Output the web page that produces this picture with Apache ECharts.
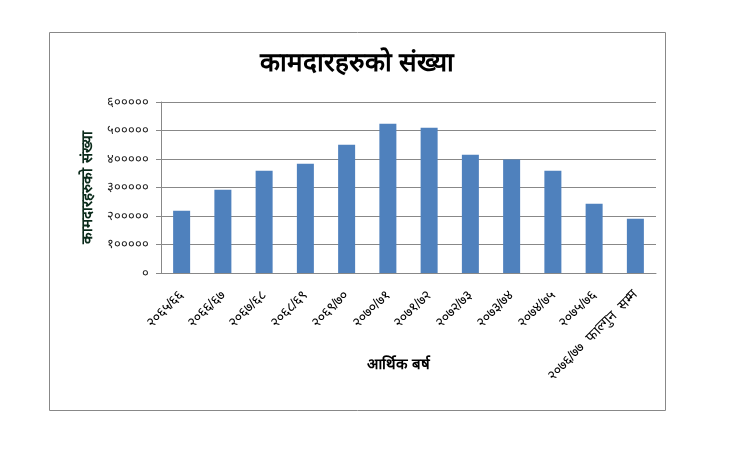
<!DOCTYPE html>
<html>
<head>
<meta charset="utf-8">
<script src="https://cdn.jsdelivr.net/npm/echarts@6/dist/echarts.min.js"></script>
<style>
html,body{margin:0;padding:0;background:#fff;}
#c{width:748px;height:459px;}
</style>
</head>
<body>
<div id="c"></div>
<script>
var categories = ['२०६५/६६','२०६६/६७','२०६७/६८','२०६८/६९','२०६९/७०','२०७०/७१','२०७१/७२','२०७२/७३','२०७३/७४','२०७४/७५','२०७५/७६','२०७६/७७  फाल्गुन  सम्म'];
var workers = [218000, 292000, 359000, 383000, 450000, 524000, 510000, 415000, 398000, 359000, 243000, 190000];
var yTicks = ['०','१०००००','२०००००','३०००००','४०००००','५०००००','६०००००'];
var titleText = 'कामदारहरुको संख्या';
var xName = 'आर्थिक बर्ष';
var yName = 'कामदारहरुको संख्या';

var chart = echarts.init(document.getElementById('c'));
chart.setOption({
  backgroundColor: '#fff',
  animation: false,
  title: {
    text: titleText,
    left: 352, top: 46, textAlign: 'center',
    textStyle: {fontSize: 26, fontWeight: 'bold', color: '#000'}
  },
  graphic: [{
    type: 'rect',
    shape: {x: 49.5, y: 32.5, width: 616, height: 378},
    style: {fill: 'none', stroke: '#888', lineWidth: 1},
    z: -1
  }],
  grid: {left: 161, right: 92, top: 102, bottom: 186, containLabel: false},
  xAxis: {
    type: 'category',
    data: categories,
    name: xName,
    nameLocation: 'middle',
    nameGap: 84,
    nameMoveOverlap: false,
    nameTextStyle: {fontSize: 15, fontWeight: 'bold', color: '#000', padding: [0, 20, 0, 0]},
    axisLine: {lineStyle: {color: '#888', width: 1}},
    axisTick: {show: false},
    axisLabel: {rotate: 45, fontSize: 14, color: '#000', interval: 0, margin: 20}
  },
  yAxis: {
    type: 'value',
    min: 0, max: 600000, interval: 100000,
    name: yName,
    nameLocation: 'middle',
    nameGap: 66,
    nameTextStyle: {fontSize: 15, fontWeight: 'bold', color: '#0a2a1a'},
    axisLine: {show: true, lineStyle: {color: '#888', width: 1}},
    axisTick: {show: true, length: 5, lineStyle: {color: '#888'}},
    splitLine: {lineStyle: {color: '#888', width: 1}},
    axisLabel: {
      fontSize: 13, color: '#222', margin: 12,
      formatter: function (v) { return yTicks[Math.round(v / 100000)]; }
    }
  },
  series: [{
    type: 'bar',
    data: workers,
    barWidth: 17,
    itemStyle: {color: '#4f81bd'}
  }]
});
</script>
</body>
</html>
